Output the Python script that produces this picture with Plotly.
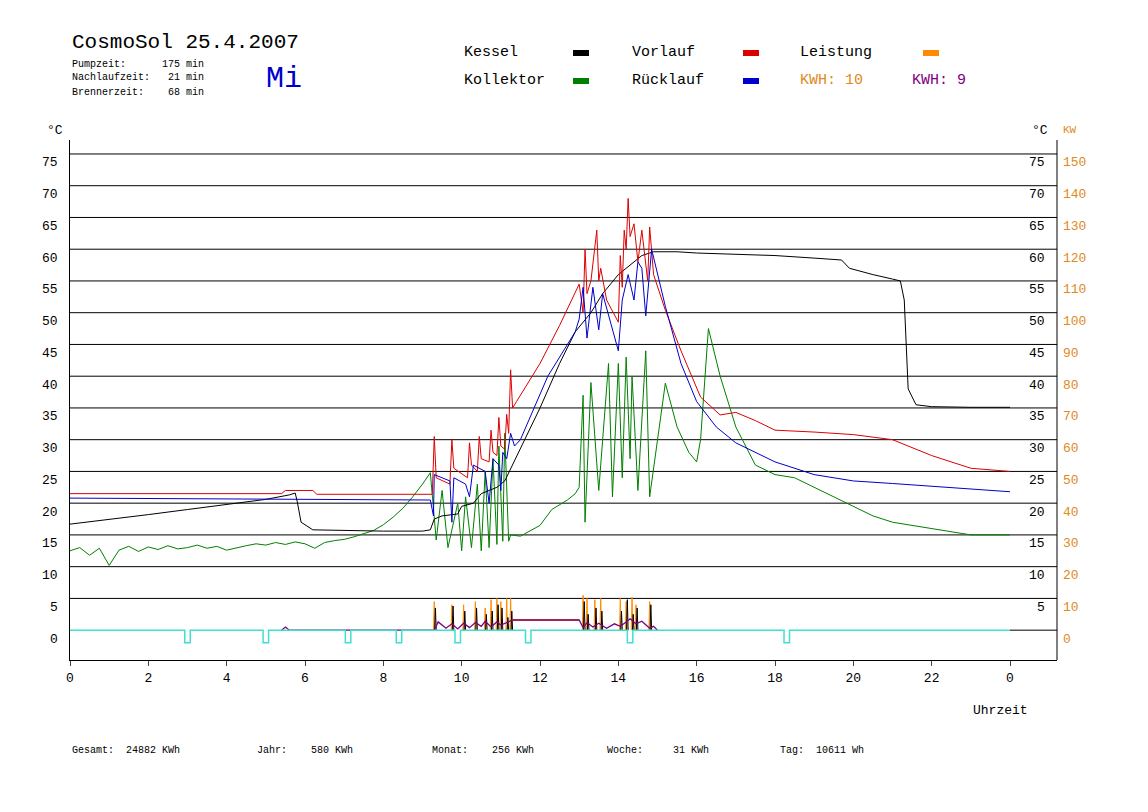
import plotly.graph_objects as go

# ---------------- data ----------------
kessel_h = [0,1,2,3,4,5,5.6,5.75,5.8,5.9,6.2,7,8,9,9.2,9.3,9.5,9.9,10,10.3,10.5,10.7,10.9,11.1,11.3,11.6,12,12.5,12.9,13.3,13.6,14,14.3,14.6,14.9,15.5,16,17,18,19,19.7,19.9,20.5,21,21.2,21.3,21.4,21.6,22,23,24]
kessel_v = [16.7,17.4,18.2,19,19.8,20.6,21.3,21.6,20.3,17,15.8,15.7,15.6,15.6,15.8,17.5,18,18.3,19.5,20,21.5,22,22.5,23.5,26,30,35,42,47,50,53,56,57.5,59,59.6,59.6,59.4,59.2,59,58.6,58.3,57,56,55.3,55,52,38,35.5,35.2,35.1,35.1]

vorlauf_h = [0,5.4,5.5,6.2,6.3,9.25,9.3,9.35,9.7,9.75,9.8,10.15,10.2,10.25,10.4,10.45,10.5,10.7,10.75,10.8,10.9,10.95,11.0,11.1,11.15,11.2,11.25,11.3,11.4,12,12.5,13.0,13.1,13.15,13.2,13.3,13.45,13.5,13.55,13.7,14.0,14.05,14.1,14.15,14.2,14.25,14.3,14.4,14.5,14.6,14.75,14.8,14.9,15.2,15.6,16.1,16.6,17,17.5,18,19,20,21,22,23,24]
vorlauf_v = [21.5,21.5,22,22,21.4,21.4,30.5,24,23,30,25.5,24,29.5,26,25,30.5,27,26.5,31.5,28,27.5,33.5,29,28.5,34,31,41,35,36,42,48,54.5,50,60,53,55,63,55,57,52,48.5,59,54,63,60,68,62,64,58,63,55,63.5,56,50.4,44,36.7,33.9,34.3,33,31.5,31.2,30.8,30,27.5,25.5,25]

ruecklauf_h = [0,5,9.2,9.28,9.3,9.7,9.75,9.8,10.1,10.2,10.3,10.6,10.7,10.8,10.95,11.0,11.05,11.15,11.25,11.35,11.5,12.2,12.9,13.0,13.1,13.2,13.35,13.5,13.6,14.0,14.1,14.25,14.4,14.5,14.6,14.7,14.85,15.2,15.6,16,16.5,17,17.5,18,19,20,21,22,23,24]
ruecklauf_v = [20.8,20.7,20.5,18,24.5,23.5,17,24,23,21,26,25,20,27,26,22,28,27,31,29,30,40,47,49,54,46,54,47.3,53,44,52,56,52,58,57,49.5,60,51,42,36,32,29.5,28,26.5,24.5,23.5,23.1,22.7,22.2,21.8]

kollektor_h = [0,0.25,0.5,0.75,1,1.25,1.5,1.75,2,2.25,2.5,2.75,3,3.25,3.5,3.75,4,4.25,4.5,4.75,5,5.25,5.5,5.75,6,6.25,6.5,6.75,7,7.25,7.5,7.75,8,8.25,8.5,8.75,9,9.2,
               9.35,9.5,9.65,9.9,10.0,10.1,10.25,10.4,10.5,10.6,10.7,10.8,10.9,10.95,11.05,11.1,11.2,11.25,11.5,12,12.3,12.7,12.9,13.0,
               13.1,13.15,13.3,13.5,13.75,13.85,14.0,14.1,14.2,14.3,14.35,14.5,14.7,14.8,15.2,15.5,15.8,16.0,16.1,16.3,16.6,17,17.5,18,18.5,19,19.5,20,20.5,21,22,23,24]
kollektor_v = [12.5,13.0,11.8,12.9,10.2,12.6,13.2,12.4,13.1,12.7,13.3,12.8,13.0,13.4,12.9,13.2,12.6,13.0,13.3,13.6,13.4,13.8,13.5,13.9,13.6,12.9,13.8,14.1,14.3,14.7,15.2,15.7,16.6,17.8,19.2,21.0,23.0,24.8,
               14.2,22,13,20,12.5,21,13,23,12.5,25,13,27,13.5,29,14,31,14,15,14.8,16.5,19,20.5,21.5,22.5,
               37,17,39,22,42,21,42,24,43,27,40,22,44,21,38.9,32,28,26.5,30,47.5,40,32,26,24.5,24,22.5,21,19.5,18,17,16,15,15]

# power / energy strip (lower part, same scale units)
spike_h = [9.3,9.75,10.05,10.35,10.6,10.75,10.9,11.0,11.15,11.25,13.1,13.2,13.4,13.55,14.05,14.2,14.35,14.45,14.8]
orange_spike_v = [4.5,4.0,4.0,4.5,3.5,4.8,5.0,4.5,5.0,5.0,5.5,5.0,4.8,5.0,5.0,4.5,5.2,4.0,4.5]
black_spike_v = [3.5,3.8,3.0,3.5,2.5,3.0,4.0,3.5,2.0,3.0,4.5,2.5,3.5,3.0,3.0,4.8,2.5,3.5,4.0]
plateau_h = [11.3,13.0]
plateau_v = [1.6,1.6]
kwh_h = [5.4,5.5,5.6,9.3,9.4,9.6,9.75,9.9,10.05,10.2,10.35,10.5,10.6,10.75,10.9,11.0,11.15,11.3,13.0,13.1,13.2,13.35,13.5,13.7,13.9,14.05,14.2,14.3,14.45,14.6,14.8,14.9,15.0]
kwh_v = [0,0.5,0,0,1.3,0.3,1.0,0.2,1.1,0.4,1.2,0.6,1.4,0.5,1.3,0.8,1.2,1.6,1.6,0.4,1.2,0.5,1.1,0.3,1.0,0.6,1.3,1.8,1.0,1.4,0.3,0.6,0]
notch_h = [3.0,5.0,7.1,8.4,9.9,11.7,14.3,18.3]

y_ticks = [0,5,10,15,20,25,30,35,40,45,50,55,60,65,70,75]
x_tickvals = [0,2,4,6,8,10,12,14,16,18,20,22,24]
x_ticktext = ["0","2","4","6","8","10","12","14","16","18","20","22","0"]

MONO = "Liberation Mono"
fig = go.Figure()

cx, cy = [0], [0]
for h in notch_h:
    cx += [h - 0.07, h - 0.07, h + 0.07, h + 0.07]
    cy += [0, -2, -2, 0]
cx.append(24); cy.append(0)

def spikes(hs, vs, w=0.02):
    xs, ys = [], []
    for h, v in zip(hs, vs):
        xs += [h - w, h, h + w, None]
        ys += [0, v, 0, None]
    return xs, ys

ox, oy = spikes(spike_h, orange_spike_v)
bx, by = spikes([h + 0.03 for h in spike_h], black_spike_v)
fig.add_trace(go.Scatter(x=ox, y=oy, mode="lines", line=dict(color="#ff8c00", width=1)))
fig.add_trace(go.Scatter(x=bx, y=by, mode="lines", line=dict(color="black", width=1)))
fig.add_trace(go.Scatter(x=plateau_h, y=plateau_v, mode="lines", line=dict(color="#ff8c00", width=2)))
fig.add_trace(go.Scatter(x=kwh_h, y=kwh_v, mode="lines", line=dict(color="#800080", width=1.3)))
fig.add_trace(go.Scatter(x=cx, y=cy, mode="lines", line=dict(color="#40e0d0", width=1.5)))

fig.add_trace(go.Scatter(x=kollektor_h, y=kollektor_v, mode="lines", line=dict(color="#008000", width=1)))
fig.add_trace(go.Scatter(x=kessel_h, y=kessel_v, mode="lines", line=dict(color="black", width=1)))
fig.add_trace(go.Scatter(x=vorlauf_h, y=vorlauf_v, mode="lines", line=dict(color="#dd0000", width=1)))
fig.add_trace(go.Scatter(x=ruecklauf_h, y=ruecklauf_v, mode="lines", line=dict(color="#0000cc", width=1)))

shapes = []
for t in y_ticks[1:]:
    shapes.append(dict(type="line", xref="x", yref="y", x0=0, x1=25.2, y0=t, y1=t, line=dict(color="black", width=1), layer="below"))
shapes.append(dict(type="line", xref="x", yref="y", x0=24, x1=25.2, y0=0, y1=0, line=dict(color="black", width=1)))
shapes.append(dict(type="line", xref="paper", yref="paper", x0=1, x1=1, y0=0, y1=1, line=dict(color="black", width=1)))

ann = []
for t in y_ticks:
    ann.append(dict(x=0, xref="paper", y=t, yref="y", text=str(t), showarrow=False, xanchor="right", xshift=-10, yshift=-9, font=dict(family=MONO, size=13, color="black")))
    if t > 0:
        ann.append(dict(x=1, xref="paper", y=t, yref="y", text=str(t), showarrow=False, xanchor="right", xshift=-10, yshift=-9, font=dict(family=MONO, size=13, color="black")))
    ann.append(dict(x=1, xref="paper", y=t, yref="y", text=str(2 * t), showarrow=False, xanchor="left", xshift=4, yshift=-9, font=dict(family=MONO, size=13, color="#e08a1e")))

# page offset of the plot (browser body margin)
OFF = 8
W, H = 1148, 812
L, R, T, B = 70 - OFF, W - 1057 + OFF, 140 - OFF, H - 660 + OFF
pw, ph = W - L - R, H - T - B
def px(x): return (x - OFF - L) / pw
def py(y): return (H - B - (y - OFF)) / ph

def txt(x, y, s, size=12, color="black", anchor="left"):
    ann.append(dict(x=px(x), y=py(y), xref="paper", yref="paper", text=s, showarrow=False, xanchor=anchor, yanchor="middle", font=dict(family=MONO, size=size, color=color)))

txt(70, 42, "CosmoSol 25.4.2007", 21)
txt(70, 64, "Pumpzeit:      175 min", 10)
txt(70, 78, "Nachlaufzeit:   21 min", 10)
txt(70, 92, "Brennerzeit:    68 min", 10)
txt(264, 79, "Mi", 30, "#0000cc")
txt(462, 53, "Kessel", 15)
txt(462, 81, "Kollektor", 15)
txt(630, 53, "Vorlauf", 15)
txt(630, 81, "Rücklauf", 15)
txt(798, 53, "Leistung", 15)
txt(798, 81, "KWH: 10", 15, "#e08a1e")
txt(910, 81, "KWH: 9", 15, "#800080")
for xx, yy, c in [(581, 53, "black"), (581, 81, "#008000"), (751, 53, "#dd0000"), (751, 81, "#0000cc"), (931, 53, "#ff8c00")]:
    shapes.append(dict(type="line", xref="paper", yref="paper", x0=px(xx - 8), x1=px(xx + 8), y0=py(yy), y1=py(yy), line=dict(color=c, width=6)))
txt(55, 130, "°C", 13, anchor="center")
txt(1040, 130, "°C", 13, anchor="center")
txt(1070, 130, "KW", 11, "#e08a1e", anchor="center")
txt(1000, 710, "Uhrzeit", 13, anchor="center")
txt(70, 750, "Gesamt:  24882 KWh", 10)
txt(255, 750, "Jahr:    580 KWh", 10)
txt(430, 750, "Monat:    256 KWh", 10)
txt(605, 750, "Woche:     31 KWh", 10)
txt(778, 750, "Tag:  10611 Wh", 10)

fig.update_layout(
    width=W, height=H, margin=dict(l=L, r=R, t=T, b=B),
    paper_bgcolor="white", plot_bgcolor="white", showlegend=False,
    shapes=shapes, annotations=ann,
    xaxis=dict(range=[0, 25.2], tickvals=x_tickvals, ticktext=x_ticktext, ticks="outside", ticklen=5,
               showgrid=False, zeroline=False, showline=True, linecolor="black", linewidth=1,
               tickfont=dict(family=MONO, size=13, color="black")),
    yaxis=dict(range=[-4.7, 77.2], showticklabels=False, showgrid=False, zeroline=False,
               showline=True, linecolor="black", linewidth=1),
)
fig.write_html("out.html")
